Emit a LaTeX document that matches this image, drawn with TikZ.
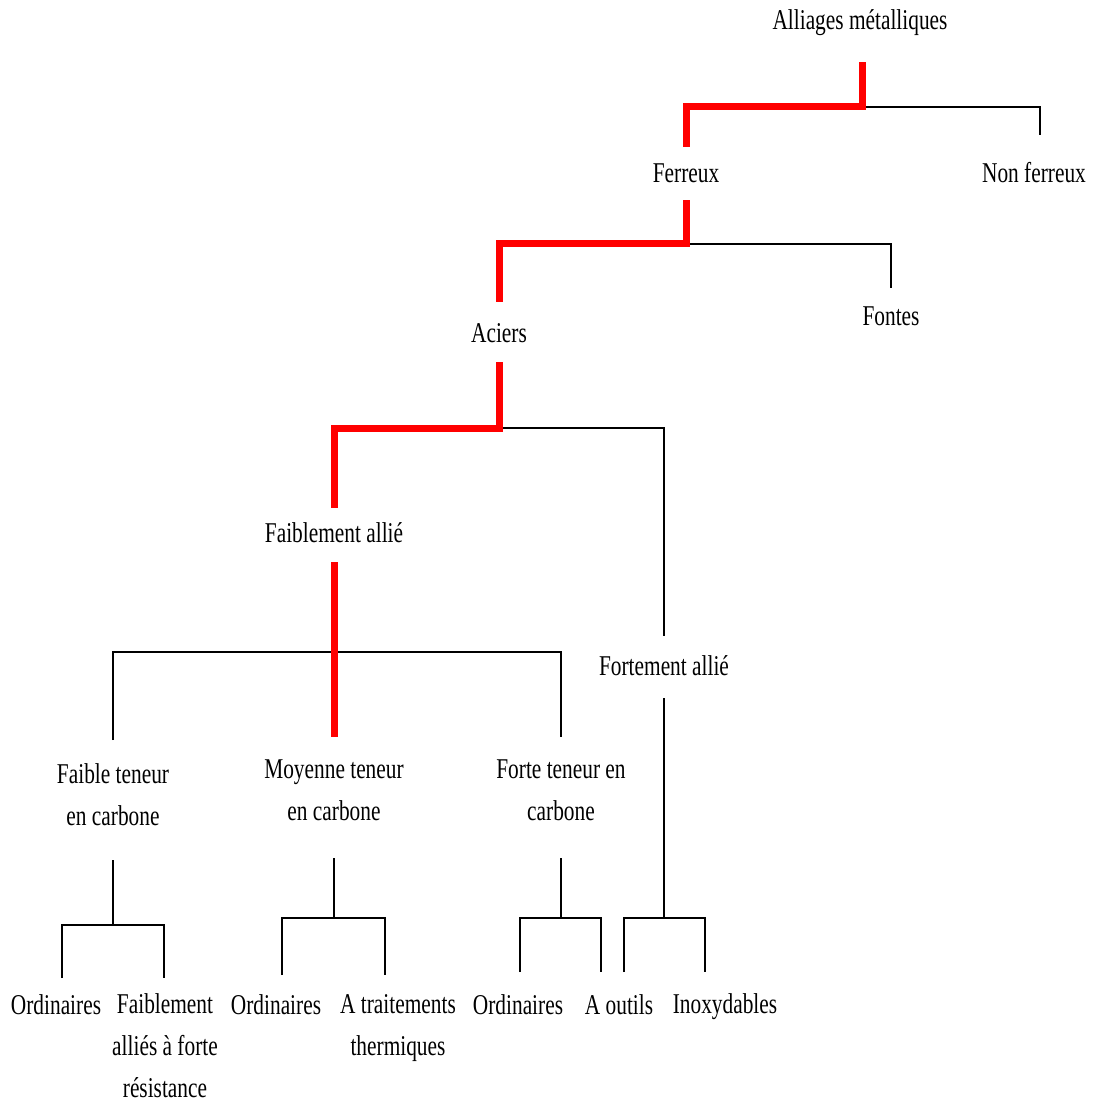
\documentclass[tikz,border=0pt]{standalone}
\usepackage{fontspec}
\setmainfont{Liberation Serif}[FakeStretch=0.745]
\begin{document}
\begin{tikzpicture}[x=0.75pt,y=-0.75pt,
  lbl/.style={inner sep=0pt, align=center, font=\fontsize{21.5pt}{31.5pt}\selectfont},
  blk/.style={line width=1.1pt, black},
  hl/.style={line width=5.25pt, red}]
\useasboundingbox (0,0) rectangle (1093,1101);
% nodes
\node[lbl] (alli) at (860,23)  {Alliages métalliques};
\node[lbl] (ferr) at (686,173) {Ferreux};
\node[lbl] (nonf) at (1034,173) {Non ferreux};
\node[lbl] (acie) at (499,333) {Aciers};
\node[lbl] (fonte) at (891,316) {Fontes};
\node[lbl] (faib) at (334,533) {Faiblement allié};
\node[lbl] (fort) at (664,666) {Fortement allié};
\node[lbl] (ft) at (113,795) {Faible teneur\\en carbone};
\node[lbl] (mt) at (334,790) {Moyenne teneur\\en carbone};
\node[lbl] (fo) at (561,790) {Forte teneur en\\carbone};
\node[lbl] (o1) at (56,1005) {Ordinaires};
\node[lbl] (fa) at (165,1046) {Faiblement\\alliés à forte\\résistance};
\node[lbl] (o2) at (276,1005) {Ordinaires};
\node[lbl] (at) at (398,1028) {A traitements\\thermiques};
\node[lbl] (o3) at (518,1005) {Ordinaires};
\node[lbl] (ao) at (619,1005) {A outils};
\node[lbl] (inox) at (725,1007) {Inoxydables};
% bracket leg ends
\coordinate (n1) at (1040,135);
\coordinate (b1l) at (62,978);  \coordinate (b1r) at (164,978);
\coordinate (b2l) at (282,975); \coordinate (b2r) at (385,975);
\coordinate (b3l) at (520,972); \coordinate (b3r) at (601,972);
\coordinate (b4l) at (624,972); \coordinate (b4r) at (705,972);
% black connectors
\draw[blk] (alli |- 0,107) -| (n1);
\draw[blk] (ferr |- 0,244) -| (fonte |- 0,288);
\draw[blk] (acie |- 0,428) -| (fort |- 0,636);
\draw[blk] (ft |- 0,740) |- (fo |- 0,652) -- (fo |- 0,737);
\draw[blk] (ft |- 0,860) -- (ft |- 0,925);
\draw[blk] (b1l) |- (ft |- 0,925) -| (b1r);
\draw[blk] (mt |- 0,858) -- (mt |- 0,918);
\draw[blk] (b2l) |- (mt |- 0,918) -| (b2r);
\draw[blk] (fo |- 0,858) -- (fo |- 0,918);
\draw[blk] (b3l) |- (fo |- 0,918) -| (b3r);
\draw[blk] (fort |- 0,698) -- (fort |- 0,918);
\draw[blk] (b4l) |- (fort |- 0,918) -| (b4r);
% red highlighted path
\draw[hl] ([xshift=1.5pt]alli |- 0,62) |- (ferr |- 0,106) -- (ferr |- 0,147);
\draw[hl] (ferr |- 0,200) |- (acie |- 0,243) -- (acie |- 0,302);
\draw[hl] (acie |- 0,362) |- (faib |- 0,428) -- (faib |- 0,508);
\draw[hl] (faib |- 0,562) -- (mt |- 0,737);
\end{tikzpicture}
\end{document}
